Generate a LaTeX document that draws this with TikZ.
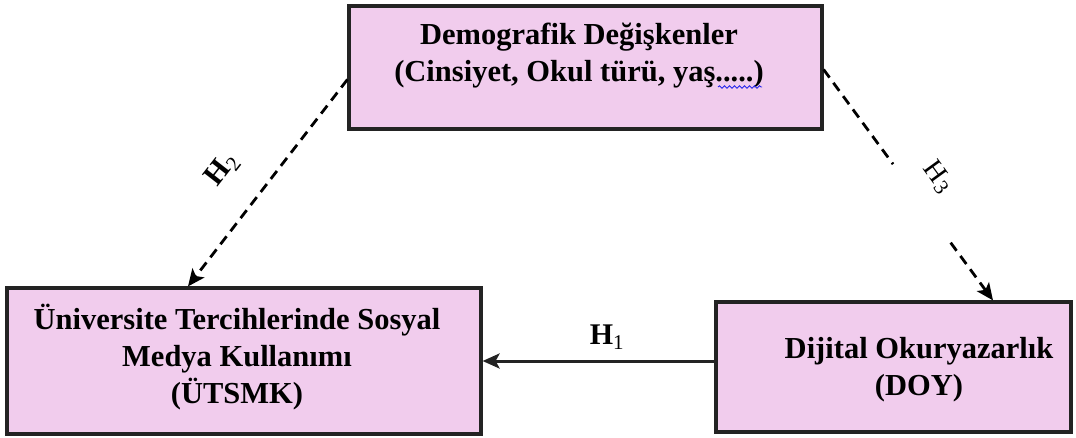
\documentclass[tikz,border=0pt]{standalone}
\usepackage{fontspec}
\setmainfont{Liberation Serif}
\usetikzlibrary{arrows.meta,calc,decorations.pathmorphing}
\definecolor{boxpink}{RGB}{241,204,237}
\definecolor{boxline}{RGB}{35,35,35}
\definecolor{spellblue}{RGB}{40,40,235}
\tikzset{
  varbox/.style={draw=boxline, line width=3.2pt, fill=boxpink, rectangle, inner sep=0pt},
  boxtext/.style={align=center, inner sep=0pt, font=\fontsize{30.5}{37}\selectfont\bfseries},
  hlabel/.style={inner sep=0pt, font=\fontsize{30}{34}\selectfont\bfseries},
  solidarrow/.style={draw=boxline, line width=3pt, -{Stealth[length=17pt,width=15pt,inset=4pt]}},
  dasharrow/.style={draw=black, line width=2.8pt, dash pattern=on 10pt off 6.5pt, -{Stealth[length=17pt,width=15pt,inset=4pt]}},
}
\begin{document}
\begin{tikzpicture}[x=1pt,y=1pt]
\useasboundingbox (0,0) rectangle (1076,437);
% boxes
\node[varbox, minimum width=473pt, minimum height=123pt] (demo) at (585.5,369.5) {};
\node[varbox, minimum width=474pt, minimum height=146pt] (utsmk) at (244,76) {};
\node[varbox, minimum width=355pt, minimum height=130pt] (doy) at (893.5,70) {};
% texts
\node[boxtext] (demotext) at (579,381) {Demografik Değişkenler\\(Cinsiyet, Okul türü, yaş.....)};
\node[boxtext] (utsmktext) at (237,80) {Üniversite Tercihlerinde Sosyal\\Medya Kullanımı\\(ÜTSMK)};
\node[boxtext] (doytext) at (919,67.5) {Dijital Okuryazarlık\\(DOY)};
% spell-check underline
\coordinate (w1) at (718,350);
\coordinate (w2) at (762,350);
\draw[spellblue, line width=0.9pt, decorate, decoration={snake, amplitude=1.2pt, segment length=5pt}] (w1) -- (w2);
% H1
\draw[solidarrow] (doy.west |- utsmk.east) -- (utsmk.east);
\node[hlabel] (h1) at (607,100) {H\textsubscript{\mdseries 1}};
% H2
\draw[dasharrow] ([yshift=-12pt]demo.west) -- ([xshift=-56pt]utsmk.north);
\node[hlabel, rotate=52] (h2) at (222,267) {H\textsubscript{\mdseries 2}};
% H3
\coordinate (h3s) at ([yshift=-2pt]demo.east);
\coordinate (h3e) at ([xshift=99.5pt]doy.north);
\draw[dasharrow] (h3s) -- ($(h3s)!0.41!(h3e)$) ($(h3s)!0.75!(h3e)$) -- (h3e);
\node[hlabel, font=\fontsize{28}{32}\selectfont\mdseries, rotate=-54] (h3) at (938,260) {H\kern1pt\raisebox{-3pt}{\fontsize{21}{24}\selectfont 3}};
\end{tikzpicture}
\end{document}
